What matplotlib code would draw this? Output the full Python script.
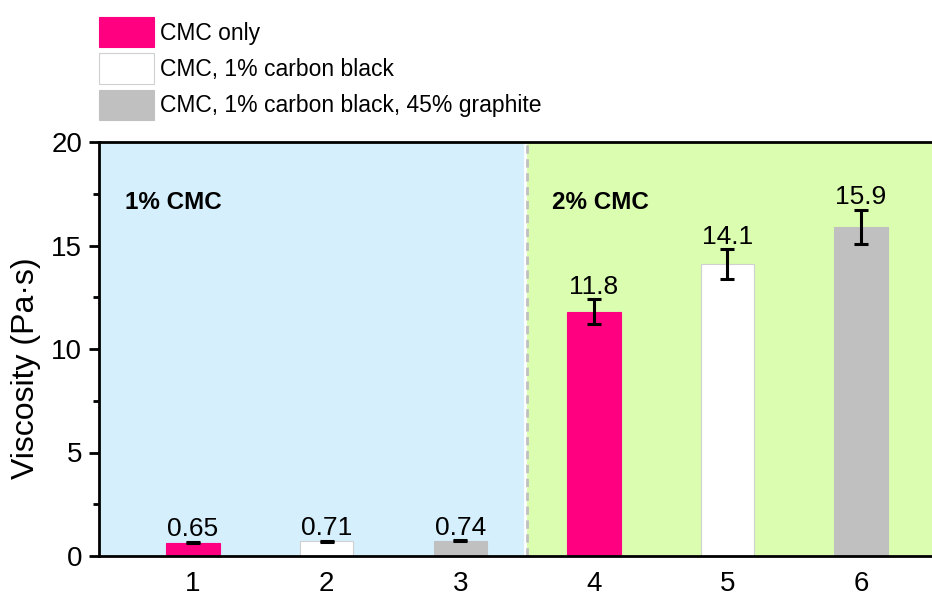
import matplotlib
matplotlib.use("Agg")
import matplotlib.pyplot as plt

plt.rcParams["font.family"] = ["Liberation Sans", "DejaVu Sans"]

# data
series = ["CMC only", "CMC, 1% carbon black", "CMC, 1% carbon black, 45% graphite"]
positions = [[1, 4], [2, 5], [3, 6]]
values = [[0.65, 11.8], [0.71, 14.1], [0.74, 15.9]]
errors = [[0.03, 0.61], [0.03, 0.72], [0.03, 0.82]]
labels = [["0.65", "11.8"], ["0.71", "14.1"], ["0.74", "15.9"]]
colors = ["#ff0080", "#ffffff", "#c0c0c0"]
edges = ["#ff0080", "#d0d0d0", "#c0c0c0"]
groups = ["1% CMC", "2% CMC"]
x_ticks = [1, 2, 3, 4, 5, 6]

fig = plt.figure(figsize=(9.32, 5.98), dpi=100)
ax = fig.add_axes([99 / 932, 42 / 598, 1 - 99 / 932, 414 / 598])

xmin, xmax = 0.296, 6.531
ax.axvspan(xmin, 3.5, color="#d5effd", zorder=0, lw=0)
ax.axvspan(3.5, xmax, color="#dafdb0", zorder=0, lw=0)
ax.axvline(3.485, color="white", lw=2, zorder=1)
ax.axvline(3.5, color="#c0c0c0", lw=2, ls=(0, (3, 2)), zorder=1)

for name, xs, ys, es, ls, c, ec in zip(series, positions, values, errors, labels, colors, edges):
    ax.bar(xs, ys, width=0.4, color=c, edgecolor=ec, linewidth=0.8,
           label=name, zorder=2)
    ax.errorbar(xs, ys, yerr=es, fmt="none", ecolor="black", elinewidth=2.2,
                capsize=5, capthick=2.2, zorder=3)
    for x, y, e, t in zip(xs, ys, es, ls):
        ax.annotate(t, (x, y + e), xytext=(0, 4), textcoords="offset points",
                    ha="center", va="baseline", fontsize=19)

ax.text(0.49, 17.1, groups[0], fontsize=17.5, fontweight="bold", va="center")
ax.text(3.69, 17.1, groups[1], fontsize=17.5, fontweight="bold", va="center")

ax.set_xlim(xmin, xmax)
ax.set_ylim(0, 20)
ax.set_xticks(x_ticks)
ax.set_yticks([0, 5, 10, 15, 20])
ax.set_yticks([2.5, 7.5, 12.5, 17.5], minor=True)
ax.tick_params(axis="x", length=0, pad=11, labelsize=20)
ax.tick_params(axis="y", which="major", length=7, width=2, pad=5, labelsize=20)
ax.tick_params(axis="y", which="minor", length=4, width=2)
for s in ["left", "bottom", "top"]:
    ax.spines[s].set_linewidth(2)
ax.spines["right"].set_visible(False)

ax.set_ylabel("Viscosity (Pa·s)", fontsize=23)
ax.yaxis.set_label_coords(-58 / 833, (556 - 368) / 414)

fig.legend(loc="upper left", bbox_to_anchor=(99 / 932, 1 - 17 / 598),
           frameon=False, fontsize=16.5, borderpad=0, borderaxespad=0,
           handlelength=2.4, handleheight=1.64, labelspacing=0.28,
           handletextpad=0.26)

fig.savefig("out.png", dpi=100)
